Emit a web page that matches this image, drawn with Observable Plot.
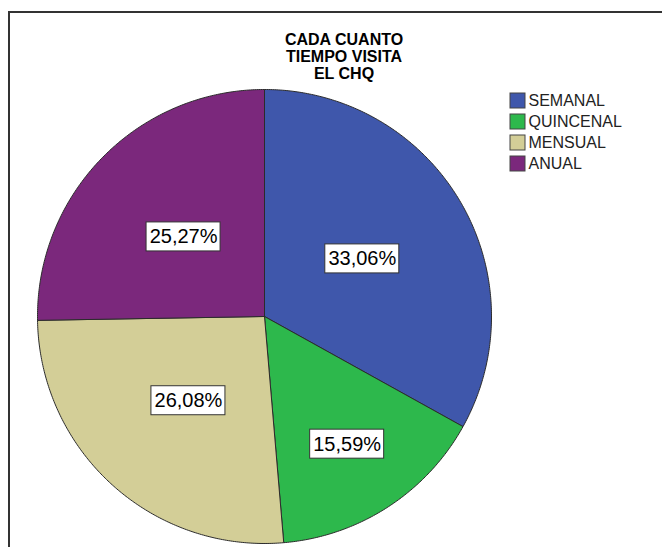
<!DOCTYPE html>
<html>
<head>
<meta charset="utf-8">
<script src="https://cdn.jsdelivr.net/npm/d3@7"></script>
<script src="https://cdn.jsdelivr.net/npm/@observablehq/plot@0.6"></script>
<style>
  html, body { margin: 0; padding: 0; background: #fff; }
  #wrap { position: relative; width: 662px; height: 547px; overflow: hidden; font-family: "Liberation Sans", Arial, sans-serif; }
  #frame { position: absolute; left: 8px; top: 11px; width: 700px; height: 600px; border: 2px solid #333; box-sizing: border-box; }
  #title { position: absolute; left: 0; top: 31px; width: 688px; text-align: center; font-weight: bold; font-size: 16px; line-height: 17px; color: #000; }
  #chart { position: absolute; left: 0; top: 0; }
</style>
</head>
<body>
<div id="wrap">
  <div id="frame"></div>
  <div id="chart"></div>
  <div id="title">CADA CUANTO<br>TIEMPO VISITA<br>EL CHQ</div>
</div>
<script>
const categories = ["SEMANAL", "QUINCENAL", "MENSUAL", "ANUAL"];
const percents = [33.06, 15.59, 26.08, 25.27];
const colors = ["#3F57AB", "#2DB84C", "#D3CE97", "#7B287C"];

const W = 662, H = 547;
const cx = 264, cy = 316, R = 227;

const data = categories.map((c, i) => ({cat: c, pct: percents[i]}));
const arcs = d3.pie().sort(null).value(d => d.pct)(data);

const pt = (a, r) => ({x: cx + r * Math.sin(a), y: cy - r * Math.cos(a)});

const slicePts = [];
arcs.forEach(a => {
  const cat = a.data.cat;
  slicePts.push({cat, ...pt(0, 0)});
  const n = Math.max(2, Math.ceil((a.endAngle - a.startAngle) / (Math.PI / 360)));
  for (let k = 0; k <= n; k++) {
    const ang = a.startAngle + (a.endAngle - a.startAngle) * k / n;
    slicePts.push({cat, ...pt(ang, R)});
  }
  slicePts.push({cat, ...pt(0, 0)});
});

const fmt = p => p.toFixed(2).replace(".", ",") + "%";
const labelData = arcs.map(a => {
  const mid = (a.startAngle + a.endAngle) / 2;
  const d = R * (a.data.pct < 20 ? 0.67 : 0.5);
  const p = pt(mid, d);
  return {cat: a.data.cat, label: fmt(a.data.pct), lx: p.x, ly: p.y};
});

const bw = 74, bh = 29;
const legX = 510, legY = 93, legPitch = 21, sw = 15;
const legendData = categories.map((c, i) => ({cat: c, i}));

const plot = Plot.plot({
  width: W, height: H,
  margin: 0,
  x: {domain: [0, W], range: [0, W], axis: null},
  y: {domain: [0, H], range: [0, H], axis: null},
  color: {domain: categories, range: colors},
  style: {fontFamily: '"Liberation Sans", Arial, sans-serif', background: "transparent"},
  marks: [
    Plot.line(slicePts, {x: "x", y: "y", z: "cat", fill: "cat", stroke: "#2b2b2b", strokeWidth: 1, curve: "linear"}),
    Plot.rect(labelData, {x1: d => d.lx - bw / 2, x2: d => d.lx + bw / 2, y1: d => d.ly - bh / 2, y2: d => d.ly + bh / 2, fill: "white", stroke: "#333", strokeWidth: 1}),
    Plot.text(labelData, {x: "lx", y: "ly", text: "label", fontSize: 20, fill: "#000"}),
    Plot.rect(legendData, {x1: legX, x2: legX + sw, y1: d => legY + d.i * legPitch, y2: d => legY + d.i * legPitch + sw, fill: "cat", stroke: "#444", strokeWidth: 1}),
    Plot.text(legendData, {x: legX + sw + 3, y: d => legY + d.i * legPitch + sw / 2, text: "cat", textAnchor: "start", fontSize: 16, fill: "#222"})
  ]
});
document.getElementById("chart").appendChild(plot);
</script>
</body>
</html>
